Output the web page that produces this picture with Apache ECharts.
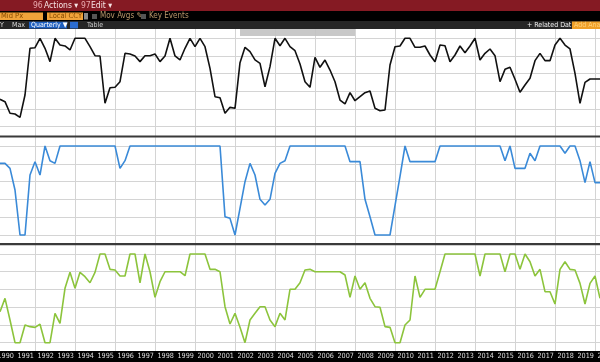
<!DOCTYPE html>
<html><head><meta charset="utf-8">
<script src="https://cdn.jsdelivr.net/npm/echarts@6/dist/echarts.min.js"></script>
<style>html,body{margin:0;padding:0;background:#fff;overflow:hidden}#c{width:600px;height:362px}</style>
</head><body><div id="c"></div>
<script>
// ---- data ----
const yearLabels = ['1990','1991','1992','1993','1994','1995','1996','1997','1998','1999','2000','2001','2002','2003','2004','2005','2006','2007','2008','2009','2010','2011','2012','2013','2014','2015','2016','2017','2018','2019','2020','2021'];
const quarters = [];
for (let y = 1990; y <= 2020; y++) for (let q = 1; q <= 4; q++) { if (y === 2020 && q > 1) break; quarters.push(y + ' Q' + q); }

const panel1Values = [31,28.3,15.2,14.4,10.6,35.9,88.7,89.4,100,88.7,
 73.6,100,92.4,91.3,86.8,100,100,100,90.5,80.3,
 80,26.5,44.1,44.6,50.9,83,82.2,80,73.6,80.3,
 80.3,82.2,73.6,80,100,80,75.5,88.7,100,90.5,
 100,90.5,66,33.9,32.8,15.2,21.9,20.8,72.4,89.8,
 84.9,75.5,71.7,45.2,67.9,100,91.6,100,90.5,86,
 71,50.9,44.6,78.5,67.2,75.4,64.1,50.9,30.2,25.7,
 38.5,29.4,33.9,38.5,40.4,20.8,18.1,18.9,69.8,90.5,
 91.3,100,100,89.8,89.8,91.3,81.1,73.5,92.4,91.6,
 73.5,81.1,91.3,83.7,91.3,100,75.4,83,87.9,80.3,
 50.9,64.9,67.2,53.6,38.9,47.2,54.8,74.7,83,74.7,
 74.7,92.4,100,92.4,87.9,60.4,26.5,50.2,54,54,
 54];

const panel2Values = [80.5,80.5,74.9,50.6,0,0,67.4,82.4,67.4,100,
 83.5,80.5,100,100,100,100,100,100,100,100,
 100,100,100,100,74.9,83.5,100,100,100,100,
 100,100,100,100,100,100,100,100,100,100,
 100,100,100,100,100,20.6,18.7,0,30,59.9,
 80.5,67.4,40.1,33.7,40.1,69.3,80.5,83.5,100,100,
 100,100,100,100,100,100,100,100,100,100,
 82.4,82.4,82.4,40.1,20.6,0,0,0,0,33,
 66,100,82.4,82.4,82.4,82.4,82.4,82.4,100,100,
 100,100,100,100,100,100,100,100,100,100,
 100,83.5,100,74.9,74.9,74.9,91.8,83.5,100,100,
 100,100,100,91.8,100,100,83.5,58.8,82.4,58.8,
 58.8];

const panel3Values = [35,50,25.6,0,0,19.9,18.1,17.3,20.8,0,
 0,33.1,21.8,61.3,79.3,61.3,79.3,74.4,67.6,79.3,
 100,100,82.7,82,75.2,75.2,100,100,67.6,100,
 80,51.1,68.8,80,80,80,80,75.5,100,100,
 100,100,82.7,82.7,80,40.6,21.1,33.1,17.3,0,
 25.6,33.1,40.6,40.6,25.6,18.1,33.1,25.6,60.2,60.2,
 67.6,82,82.7,80,80,80,80,80,80,76.3,
 51.1,75.2,60.2,67.6,50,40.6,39.9,18.1,17.3,0,
 0,19.9,25.6,75.2,51.1,60.2,60.2,60.2,80,100,
 100,100,100,100,100,100,75.2,100,100,100,
 100,80,100,100,82.7,100,91.3,75.2,82.7,57.5,
 57.5,43.6,82.7,91.3,82.7,82,66.9,43.6,66.9,75.2,
 50];

// ---- chart ----
const GRID_COLOR = '#d4d4d4';
const FONT = '"Liberation Sans Narrow", "DejaVu Sans Condensed", sans-serif';
const panelTops = [38.3, 146, 254];
const panelHeights = [88.4, 89, 88.7];
const lineColors = ['#111111', '#3a8ad8', '#8cc43c'];
const panelData = [panel1Values, panel2Values, panel3Values];

const grids = [
  { left: -4.3, right: -35.7, top: 29, bottom: 11, outerBoundsMode: 'none', containLabel: false },
];
const xAxes = [
  { gridIndex: 0, type: 'value', min: 1990, max: 2022, interval: 2,
    axisLine: {show:false}, axisTick: {show:false}, axisLabel: {show:false},
    splitLine: {show:true, lineStyle:{color:GRID_COLOR, width:1}} }
];
const yAxes = [
  { gridIndex: 0, type: 'value', min: 0, max: 1, show: false }
];
const series = [];
for (let k = 0; k < 3; k++) {
  grids.push({ left: 0, right: 0, top: panelTops[k], height: panelHeights[k], outerBoundsMode: 'none' });
  xAxes.push({ gridIndex: k + 1, type: 'category', data: quarters, boundaryGap: false, show: false });
  yAxes.push({ gridIndex: k + 1, type: 'value', min: 0, max: 100, interval: 20,
    axisLine:{show:false}, axisTick:{show:false}, axisLabel:{show:false},
    splitLine:{show:true, lineStyle:{color:GRID_COLOR, width:1}} });
  series.push({ type: 'line', xAxisIndex: k + 1, yAxisIndex: k + 1, data: panelData[k],
    showSymbol: false, symbol: 'none', clip: false, z: 5,
    lineStyle: { color: lineColors[k], width: 1.6 } });
}
grids.push({ left: -4.3, right: -35.7, top: 351, bottom: 0, show: true, backgroundColor: '#000', borderWidth: 0,
  outerBoundsMode: 'none', containLabel: false });
xAxes.push({ gridIndex: 4, type: 'category', data: yearLabels, boundaryGap: true, position: 'top',
  axisLine:{show:false}, axisTick:{show:false}, splitLine:{show:false},
  axisLabel:{ inside: true, margin: 1.5, interval: 0, color: '#dcdcdc', fontSize: 7.2, hideOverlap: false,
    fontFamily: '"Liberation Sans Narrow", "DejaVu Sans Condensed", sans-serif' } });
yAxes.push({ gridIndex: 4, type: 'value', show: false });

function txt(x, y, s, color, size, extra) {
  return Object.assign({ type: 'text', x: x, y: y, z: 101,
    style: { text: s, fill: color, font: (size || 7.5) + 'px ' + FONT, verticalAlign: 'middle', align: 'left' } }, extra || {});
}
function rect(x, y, w, h, fill, z) {
  return { type: 'rect', shape: { x: x, y: y, width: w, height: h }, style: { fill: fill }, z: z || 100 };
}

const graphics = [
  // red menu bar
  rect(0, 0, 600, 11, '#851a23'),
  txt(33, 5.6, '96', '#e9a9ae', 8.5),
  txt(44, 5.6, 'Actions ▾', '#f6e4e4', 8.5),
  txt(81, 5.6, '97', '#e9a9ae', 8.5),
  txt(91, 5.6, 'Edit ▾', '#f6e4e4', 8.5),
  // black toolbar
  rect(0, 11, 600, 10, '#000'),
  rect(-2, 12.5, 45, 7.5, '#f0a33a', 101),
  txt(1, 16.4, 'Mid Px', '#8a4d00', 7.5),
  rect(47, 12.5, 36, 7.5, '#f0a33a', 101),
  txt(49, 16.4, 'Local CCY', '#8a4d00', 7.5),
  rect(84, 13, 4, 6.5, '#8a8a8a', 101),
  rect(92, 14, 5, 5, '#555', 101),
  txt(100, 16.4, 'Mov Avgs ✎', '#b8966a', 8),
  rect(141, 14, 5, 5, '#555', 101),
  txt(149, 16.4, 'Key Events', '#b8966a', 8),
  // dark gray toolbar
  rect(0, 21, 600, 8, '#262626'),
  txt(0, 25.2, 'Y', '#dddddd', 7),
  txt(12, 25.2, 'Max', '#dddddd', 7),
  rect(29, 21.8, 38, 6.6, '#1e5fbf', 101),
  txt(31, 25.2, 'Quarterly ▼', '#ffffff', 7),
  rect(70, 21.8, 8, 6.6, '#2b6cd0', 101),
  txt(87, 25.2, 'Table', '#c8c8c8', 7),
  txt(527, 25.2, '+ Related Dat', '#f0f0f0', 7),
  rect(572, 21.5, 30, 7.5, '#f0a028', 101),
  txt(574, 25.2, 'Add Ana', '#ffd27a', 7),
  // faint zoom controls box
  { type: 'rect', shape: { x: 240, y: 29, width: 115, height: 7 }, style: { fill: '#c2c2c2', opacity: 0.9 }, z: 100 },
  // panel separators
  rect(0, 135.5, 600, 2, '#3a3a3a'),
  rect(0, 243, 600, 2.2, '#3a3a3a')
];

const chart = echarts.init(document.getElementById('c'), null, { renderer: 'canvas' });
chart.setOption({
  animation: false,
  backgroundColor: '#ffffff',
  grid: grids,
  xAxis: xAxes,
  yAxis: yAxes,
  series: series,
  graphic: graphics
});
</script></body></html>
